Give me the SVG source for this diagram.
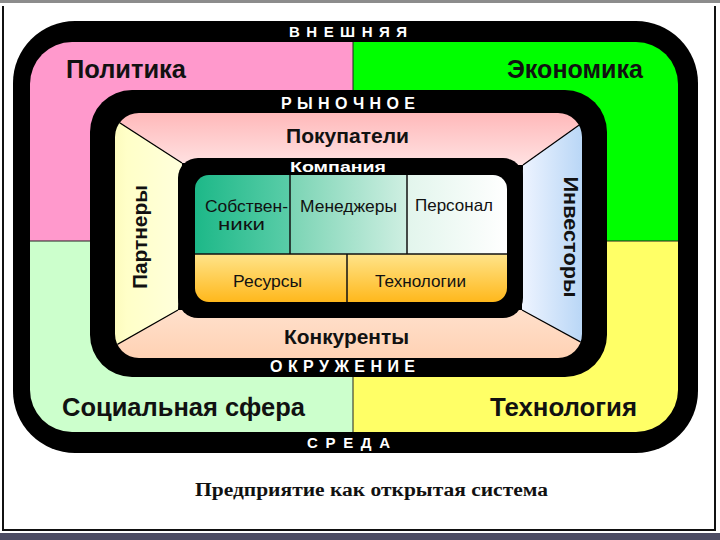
<svg xmlns="http://www.w3.org/2000/svg" width="720" height="540" viewBox="0 0 720 540">
<defs>
<style>
.t{font-family:"Liberation Sans",Arial,sans-serif;fill:#111}
.big{font-size:25px;font-weight:bold}
.band{font-family:"Liberation Sans",Arial,sans-serif;font-size:15px;font-weight:bold;fill:#fff}
.cell{font-size:17px}
.mid{font-size:20px;font-weight:bold}
.cap{font-family:"Liberation Serif","Times New Roman",serif;font-size:18px;font-weight:bold;fill:#111}
.div{stroke:#222;stroke-width:1;fill:none}
.cdiv{stroke:#111;stroke-width:1.5;fill:none}
.diag{stroke:#000;stroke-width:1.2;fill:none}
</style>
<clipPath id="envClip"><rect x="30" y="42" width="648" height="390" rx="42"/></clipPath>
<clipPath id="mktClip"><rect x="115" y="113" width="467" height="245" rx="24"/></clipPath>
<clipPath id="cellClip"><rect x="195" y="175" width="312" height="127" rx="14"/></clipPath>
<linearGradient id="gTop" x1="0" y1="0" x2="0" y2="1"><stop offset="0" stop-color="#FFA6A8"/><stop offset="1" stop-color="#FFE2E2"/></linearGradient>
<linearGradient id="gLeft" x1="0" y1="0" x2="1" y2="0"><stop offset="0" stop-color="#F8F4A8"/><stop offset="0.4" stop-color="#FFFFC8"/><stop offset="1" stop-color="#FFFFDC"/></linearGradient>
<linearGradient id="gRight" x1="0" y1="0" x2="1" y2="0"><stop offset="0" stop-color="#EEF4FF"/><stop offset="1" stop-color="#98C4F0"/></linearGradient>
<linearGradient id="gBot" x1="0" y1="0" x2="0" y2="1"><stop offset="0" stop-color="#FFE0CC"/><stop offset="1" stop-color="#FFCBA8"/></linearGradient>
<linearGradient id="gOwn" x1="0" y1="0" x2="1" y2="0"><stop offset="0" stop-color="#1DB888"/><stop offset="1" stop-color="#5ACDA8"/></linearGradient>
<linearGradient id="gMgr" x1="0" y1="0" x2="1" y2="0"><stop offset="0" stop-color="#7AD4B4"/><stop offset="1" stop-color="#CFEFE2"/></linearGradient>
<linearGradient id="gStaff" x1="0" y1="0" x2="1" y2="0"><stop offset="0" stop-color="#E2F5EC"/><stop offset="1" stop-color="#FFFFFF"/></linearGradient>
<linearGradient id="gRes" x1="0" y1="0" x2="0" y2="1"><stop offset="0" stop-color="#FFE48A"/><stop offset="1" stop-color="#FFB81C"/></linearGradient>
</defs>

<rect width="720" height="540" fill="#fff"/>

<g id="frame">
<rect x="0" y="0" width="720" height="3" fill="#8c8c8c"/>
<rect x="2" y="6" width="2" height="525" fill="#111"/>
<rect x="714" y="6" width="2" height="525" fill="#111"/>
<rect x="2" y="529" width="714" height="2" fill="#111"/>
<rect x="0" y="533" width="720" height="7" fill="#4d4d64"/>
</g>

<g id="environment">
<rect x="13" y="21" width="685" height="432" rx="62" fill="#000"/>
<g clip-path="url(#envClip)">
<g id="politics"><rect x="30" y="42" width="323" height="199" fill="#FF99CC"/></g>
<g id="economy"><rect x="353" y="42" width="325" height="199" fill="#00FF00"/></g>
<g id="social"><rect x="30" y="241" width="323" height="191" fill="#CCFFCC"/></g>
<g id="technology"><rect x="353" y="241" width="325" height="191" fill="#FFFF66"/></g>
<line class="div" x1="353" y1="42" x2="353" y2="432"/>
<line class="div" x1="30" y1="241" x2="678" y2="241"/>
</g>
<text class="band" x="289" y="37" textLength="118" lengthAdjust="spacing">ВНЕШНЯЯ</text>
<text class="band" x="307" y="448" textLength="83" lengthAdjust="spacing">СРЕДА</text>
<text class="t big" x="66" y="78" textLength="120" lengthAdjust="spacingAndGlyphs">Политика</text>
<text class="t big" x="507" y="78" textLength="136" lengthAdjust="spacingAndGlyphs">Экономика</text>
<text class="t big" x="62" y="416" textLength="243" lengthAdjust="spacingAndGlyphs">Социальная сфера</text>
<text class="t big" x="490" y="416" textLength="147" lengthAdjust="spacingAndGlyphs">Технология</text>
</g>

<g id="market">
<rect x="90" y="90" width="517" height="287" rx="42" fill="#000"/>
<g clip-path="url(#mktClip)">
<g id="buyers"><polygon points="90,103.7 90,90 620,90 620,96 523,165 182,163" fill="url(#gTop)"/></g>
<g id="partners"><polygon points="90,103.7 182,163 178,310 90,360" fill="url(#gLeft)"/></g>
<g id="investors"><polygon points="620,96 523,165 522,310 620,363.4" fill="url(#gRight)"/></g>
<g id="competitors"><polygon points="90,360 178,310 522,310 620,363.4 620,380 90,380" fill="url(#gBot)"/></g>
</g>
<text class="band" x="281" y="109" textLength="134" lengthAdjust="spacing" style="font-size:16px">РЫНОЧНОЕ</text>
<text class="band" x="270" y="372" textLength="145" lengthAdjust="spacing" style="font-size:16px">ОКРУЖЕНИЕ</text>
<text class="t mid" x="286" y="143" textLength="123" lengthAdjust="spacingAndGlyphs">Покупатели</text>
<text class="t mid" x="284" y="344" textLength="125" lengthAdjust="spacingAndGlyphs">Конкуренты</text>
<text class="t mid" transform="translate(147,237) rotate(-90)" text-anchor="middle" textLength="104" lengthAdjust="spacingAndGlyphs">Партнеры</text>
<text class="t mid" transform="translate(564,237) rotate(90)" text-anchor="middle" textLength="121" lengthAdjust="spacingAndGlyphs">Инвесторы</text>
</g>

<g id="connectors" clip-path="url(#mktClip)">
<line class="diag" x1="90" y1="103.7" x2="182" y2="163"/>
<line class="diag" x1="620" y1="96" x2="523" y2="165"/>
<line class="diag" x1="90" y1="360" x2="178" y2="310"/>
<line class="diag" x1="620" y1="363.4" x2="522" y2="310"/>
</g>

<g id="company">
<rect x="178" y="158" width="345" height="160" rx="20" fill="#000"/>
<text class="band" x="290" y="172" textLength="96" lengthAdjust="spacingAndGlyphs" style="font-size:15px">Компания</text>
<g clip-path="url(#cellClip)">
<g id="owners"><rect x="195" y="175" width="95" height="79" fill="url(#gOwn)"/></g>
<g id="managers"><rect x="290" y="175" width="117" height="79" fill="url(#gMgr)"/></g>
<g id="staff"><rect x="407" y="175" width="100" height="79" fill="url(#gStaff)"/></g>
<g id="resources"><rect x="195" y="254" width="152" height="48" fill="url(#gRes)"/></g>
<g id="technologies"><rect x="347" y="254" width="160" height="48" fill="url(#gRes)"/></g>
<line class="cdiv" x1="290" y1="175" x2="290" y2="254"/>
<line class="cdiv" x1="407" y1="175" x2="407" y2="254"/>
<line class="cdiv" x1="195" y1="254" x2="507" y2="254"/>
<line class="cdiv" x1="347" y1="254" x2="347" y2="302"/>
</g>
<text class="t cell" x="205" y="212" textLength="83" lengthAdjust="spacingAndGlyphs">Собствен-</text>
<text class="t cell" x="218" y="230" textLength="47" lengthAdjust="spacingAndGlyphs">ники</text>
<text class="t cell" x="300" y="212" textLength="97" lengthAdjust="spacingAndGlyphs">Менеджеры</text>
<text class="t cell" x="415" y="211" textLength="78" lengthAdjust="spacingAndGlyphs">Персонал</text>
<text class="t cell" x="233" y="287" textLength="69" lengthAdjust="spacingAndGlyphs">Ресурсы</text>
<text class="t cell" x="375" y="287" textLength="91" lengthAdjust="spacingAndGlyphs">Технологии</text>
</g>

<text class="cap" x="195" y="496" textLength="353" lengthAdjust="spacingAndGlyphs">Предприятие как открытая система</text>
</svg>
